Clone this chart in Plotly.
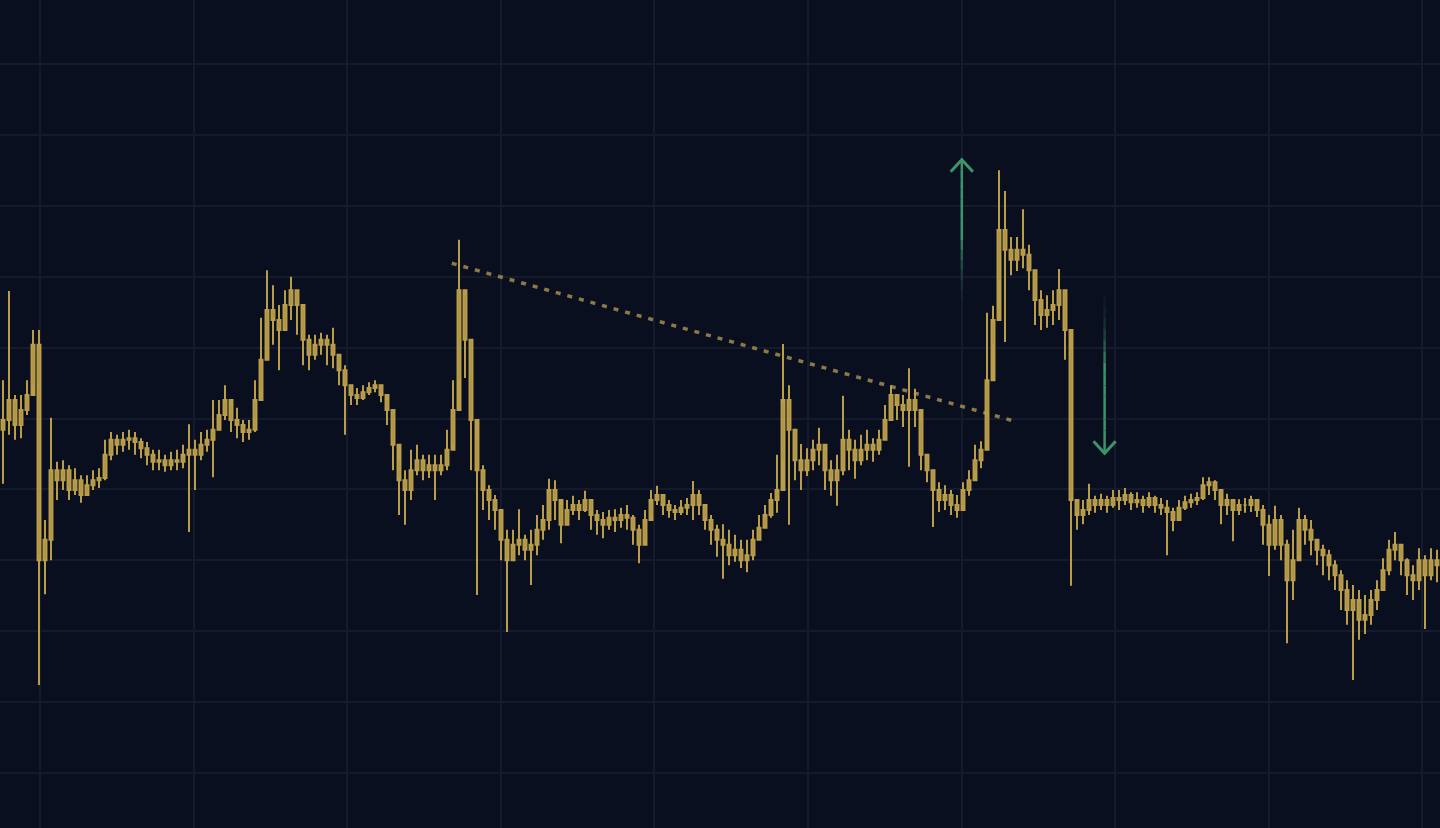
import numpy as np
import plotly.graph_objects as go

# ---- price data (one candle per period) ----
close = [
149.8,152.6,149.1,151.2,153.3,160.4,130.0,132.9,142.7,141.3,
142.7,139.9,141.3,139.2,140.6,141.3,141.6,144.9,147.0,146.3,
147.0,147.2,146.7,145.8,144.9,143.9,144.1,143.4,144.1,143.9,
144.9,145.6,144.9,146.3,147.0,148.4,150.5,152.6,149.8,149.1,
148.1,148.4,152.6,158.3,165.3,163.9,162.5,166.0,168.1,166.0,
161.1,159.0,160.4,161.1,160.4,159.0,156.8,154.7,153.3,152.9,
153.7,154.3,154.7,153.3,151.2,146.3,141.3,139.9,142.7,144.1,
142.7,143.4,142.7,143.4,145.6,151.2,168.1,161.1,149.8,142.7,
139.9,138.5,137.1,132.9,130.0,132.2,132.9,131.5,132.2,134.3,
135.7,139.9,138.5,135.0,137.1,137.8,137.1,138.5,136.4,135.7,
135.0,136.0,135.7,136.4,136.0,134.3,132.2,135.7,138.5,139.2,
137.8,137.1,136.8,137.4,137.8,139.2,137.8,135.7,134.3,132.9,
132.2,130.7,131.5,130.0,130.7,132.9,134.6,136.4,138.5,139.9,
152.6,148.4,144.1,142.7,144.1,145.6,146.3,142.7,141.3,142.7,
147.0,145.6,144.1,145.6,146.3,145.6,147.0,149.8,153.3,151.9,
151.2,152.6,151.2,144.9,142.7,139.9,138.5,139.2,137.8,137.1,
139.9,141.3,144.1,145.6,155.4,163.9,176.6,173.8,172.4,173.8,
173.1,170.9,166.7,164.6,165.3,166.0,168.1,162.5,138.5,136.4,
137.1,138.5,137.8,138.5,137.8,138.8,138.5,139.2,138.2,138.5,
137.8,138.8,137.8,137.4,136.8,135.7,137.4,138.2,138.5,138.8,
140.6,141.0,139.9,137.8,138.5,137.1,137.8,137.8,138.5,137.1,
135.0,132.2,135.7,132.2,127.2,130.0,135.7,134.3,132.9,131.5,
130.7,129.3,127.9,125.8,123.0,124.4,121.6,122.3,124.4,125.8,
128.6,131.5,132.2,130.0,127.9,127.2,130.0,127.9,130.0,129.3,
]
high = [
155.4,168.0,153.3,153.3,155.4,162.5,162.5,135.7,150.1,143.9,
144.1,143.4,143.0,142.0,142.0,142.7,143.0,147.0,148.1,147.7,
148.1,148.4,148.1,147.2,146.7,145.6,145.6,144.9,145.3,145.6,
146.3,149.2,147.0,148.1,148.4,152.6,152.6,154.7,151.9,151.5,
149.8,149.8,155.4,164.2,170.9,168.8,166.0,168.1,170.0,168.1,
165.3,161.8,161.8,162.1,161.8,162.8,159.0,157.5,154.7,154.3,
154.7,155.1,155.4,154.7,152.6,151.2,144.1,142.7,145.6,146.3,
144.9,144.9,144.9,144.9,148.4,155.4,175.2,167.4,161.1,147.0,
143.4,140.6,139.2,137.1,134.3,134.3,137.2,133.6,134.3,136.4,
137.8,141.5,141.3,137.8,138.5,139.1,138.5,139.8,138.5,137.1,
136.8,137.1,137.2,137.4,137.8,136.4,135.0,137.1,139.9,140.5,
139.2,138.5,137.8,138.5,138.8,141.2,139.9,137.8,136.4,135.0,
135.1,134.3,133.6,132.9,132.9,134.3,136.4,137.8,139.5,144.9,
160.5,154.7,148.4,146.4,145.8,147.0,148.7,145.6,144.1,144.9,
153.2,148.4,147.0,147.7,148.4,147.2,148.4,151.9,154.7,153.3,
153.3,157.1,154.2,149.8,145.0,142.7,141.0,140.6,139.9,139.2,
141.0,142.7,146.3,146.8,164.9,165.9,185.0,182.1,175.6,175.6,
179.5,174.5,170.9,168.1,167.4,168.1,171.1,168.1,159.7,138.5,
138.5,140.8,139.1,139.4,139.1,139.9,139.9,140.2,139.6,139.6,
139.1,139.6,139.1,138.8,138.5,137.4,138.5,139.1,139.4,139.6,
141.7,141.7,141.3,139.9,139.4,138.6,138.6,138.8,139.1,138.5,
137.8,136.4,137.7,136.4,132.9,134.3,137.4,136.4,135.7,132.9,
132.2,131.5,130.0,128.6,127.2,126.5,125.8,125.1,125.8,127.2,
130.3,132.9,134.0,131.7,130.3,129.3,131.7,130.7,131.7,131.5,
]
low = [
140.8,147.7,147.0,147.2,150.5,154.7,112.4,125.2,130.0,138.5,
139.9,138.5,139.2,138.1,139.2,139.9,140.2,141.3,144.1,144.9,
145.3,145.6,144.9,144.4,143.4,142.7,142.7,142.5,142.7,142.7,
143.0,134.0,139.9,144.1,145.3,141.7,148.4,149.8,148.1,147.2,
146.7,147.0,148.1,154.0,158.3,160.4,156.8,162.5,163.9,161.8,
157.5,156.8,158.3,159.0,157.5,157.1,154.7,147.7,151.9,151.9,
152.6,153.3,153.7,152.3,149.1,142.7,136.4,135.0,138.5,142.0,
141.3,141.6,138.5,142.0,142.7,146.3,155.4,155.7,142.7,125.1,
137.1,135.7,134.3,130.0,119.9,130.0,130.7,130.0,126.5,130.7,
132.9,134.3,135.7,132.4,135.0,136.4,135.7,136.8,134.3,133.6,
133.1,134.3,134.0,134.6,134.3,132.2,129.6,132.9,136.4,137.8,
136.4,136.0,135.7,136.4,136.4,135.7,136.4,134.3,132.2,130.5,
127.4,129.3,129.8,128.9,128.3,130.0,132.9,134.6,136.0,136.7,
144.1,135.0,141.3,139.9,141.9,142.7,143.4,139.9,139.1,137.7,
142.0,142.7,141.5,143.4,144.1,143.9,144.9,147.0,149.8,149.8,
148.8,143.2,148.8,142.7,141.0,134.7,136.8,137.1,136.4,136.0,
137.8,139.1,142.7,143.0,147.0,160.4,169.5,160.8,170.2,170.8,
171.2,168.1,163.2,162.5,162.8,163.2,163.9,158.3,126.4,134.3,
135.1,136.4,136.7,137.1,136.7,137.4,137.1,137.8,137.1,137.4,
136.7,137.4,136.7,136.4,130.7,134.1,135.7,137.1,137.4,137.8,
138.5,139.2,138.5,135.1,136.4,132.7,136.4,136.7,136.8,136.1,
132.2,127.8,131.5,130.0,118.3,124.4,130.7,132.2,130.7,129.3,
127.9,127.2,125.8,123.0,120.9,113.1,118.8,119.6,120.9,123.0,
125.8,127.9,130.0,127.9,125.1,124.4,125.8,120.3,127.2,126.9,
]
first_open = 148.4
periods = list(range(len(close)))

# trend line (two anchor points: period, price)
trend_x = [74.8, 168.7]
trend_y = [171.9, 149.6]

# signals: (period, tail price, tip price)
buy_signal = (159.8, 166.7, 186.5)
sell_signal = (183.6, 167.4, 145.1)

opens = [first_open] + close[:-1]

BG = "#0a0f20"
GRID = "#141b2c"
GOLD = "#c4a54b"
GREEN = (58, 150, 106)

fig = go.Figure()
fig.add_trace(go.Candlestick(
    x=periods, open=opens, high=high, low=low, close=close,
    increasing=dict(line=dict(color=GOLD, width=2), fillcolor="rgba(196,165,75,0.9)"),
    decreasing=dict(line=dict(color=GOLD, width=2), fillcolor="rgba(196,165,75,0.9)"),
    whiskerwidth=0, hoverinfo="skip", showlegend=False, opacity=0.95,
))

fig.add_trace(go.Scatter(
    x=trend_x, y=trend_y, mode="lines",
    line=dict(color="rgba(190,162,86,0.72)", width=3.5, dash="5px,7px"),
    hoverinfo="skip", showlegend=False,
))

def add_arrow(sig):
    px_, y0, y1 = sig
    n = 14
    ys = np.linspace(y0, y1, n + 1)
    for k in range(n):
        t = (k + 1) / n
        a = min(1.0, t / 0.5) ** 2
        a = 0.06 + 0.94 * a
        fig.add_trace(go.Scatter(
            x=[px_, px_], y=[ys[k], ys[k + 1]], mode="lines",
            line=dict(color=f"rgba({GREEN[0]},{GREEN[1]},{GREEN[2]},{a:.3f})", width=2.5),
            hoverinfo="skip", showlegend=False,
        ))
    d = 1.0 if y1 > y0 else -1.0
    hx, hy = 1.85, 1.7
    fig.add_trace(go.Scatter(
        x=[px_ - hx, px_, px_ + hx], y=[y1 - d * hy, y1, y1 - d * hy], mode="lines",
        line=dict(color=f"rgb({GREEN[0]},{GREEN[1]},{GREEN[2]})", width=3),
        hoverinfo="skip", showlegend=False,
    ))

add_arrow(buy_signal)
add_arrow(sell_signal)

fig.update_layout(
    width=1440, height=828,
    margin=dict(l=0, r=0, t=0, b=0),
    paper_bgcolor=BG, plot_bgcolor=BG,
    showlegend=False,
    xaxis=dict(range=[-0.5, len(close) - 0.5], showticklabels=False, ticks="",
               showgrid=True, gridcolor=GRID, gridwidth=2, zeroline=False,
               tick0=6.17, dtick=25.6, rangeslider=dict(visible=False), fixedrange=True),
    yaxis=dict(range=[92.24, 209.03], showticklabels=False, ticks="",
               showgrid=True, gridcolor=GRID, gridwidth=2, zeroline=False,
               tick0=0, dtick=10, fixedrange=True),
)

fig.write_html("out.html", include_plotlyjs=True, full_html=True,
               config={"displayModeBar": False},
               post_script="document.body.style.margin='0';document.body.style.overflow='hidden';")
